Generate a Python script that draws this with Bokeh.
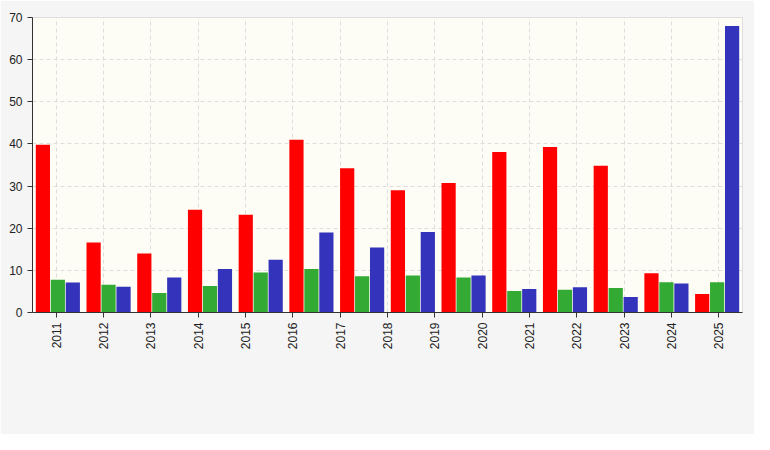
from bokeh.plotting import figure
from bokeh.models import Legend, LegendItem, FixedTicker, Range1d
from bokeh.embed import file_html
from bokeh.resources import INLINE

years = ["2011","2012","2013","2014","2015","2016","2017","2018","2019","2020","2021","2022","2023","2024","2025"]
red = [39.8, 16.6, 14.0, 24.4, 23.2, 41.0, 34.2, 29.0, 30.7, 38.1, 39.3, 34.8, 9.3, 4.4]
green = [7.8, 6.6, 4.6, 6.3, 9.5, 10.3, 8.6, 8.8, 8.3, 5.1, 5.4, 5.8, 7.2, 7.2]
blue = [7.1, 6.1, 8.3, 10.3, 12.5, 19.0, 15.4, 19.1, 8.8, 5.6, 6.0, 3.7, 6.9, 68.0]
names = ["- коэффициент оборачиваемости средств в расчетах",
         "- оборачиваемость кредиторской задолженности",
         "- коэффициент оборачиваемости денежных средств"]
colors = ["#ff0000", "#33aa33", "#3333bb"]

n = len(red)
p = figure(width=754, height=434, output_backend="svg", toolbar_location=None,
           x_range=Range1d(0, n), y_range=Range1d(0, 70),
           min_border_left=32, min_border_right=12, min_border_top=17, min_border_bottom=122)
p.background_fill_color = "#fdfdf5"
p.border_fill_color = "#f5f5f5"
p.outline_line_color = "#dddddd"

w = 0.28
rs = []
for k, (vals, c) in enumerate(zip([red, green, blue], colors)):
    xs = [i + 0.5 + (k - 1) * 0.295 for i in range(n)]
    r = p.vbar(x=xs, top=vals, width=w, bottom=0, fill_color=c, line_color=None)
    rs.append(r)

ticks = [(j + 0.5) * n / len(years) for j in range(len(years))]
p.xaxis.ticker = FixedTicker(ticks=ticks)
p.xaxis.major_label_overrides = {t: y for t, y in zip(ticks, years)}
p.xaxis.major_label_orientation = 1.5708
p.yaxis.ticker = FixedTicker(ticks=list(range(0, 71, 10)))
for ax in (p.xaxis, p.yaxis):
    ax.major_label_text_font = "Liberation Sans"
    ax.major_label_text_font_size = "12px"
    ax.major_label_text_color = "#222222"
    ax.axis_line_color = "#333333"
    ax.major_tick_line_color = "#333333"
    ax.minor_tick_line_color = None
    ax.major_tick_out = 5
    ax.major_tick_in = 0
p.xgrid.ticker = FixedTicker(ticks=ticks)
p.grid.grid_line_color = "#dddddd"
p.grid.grid_line_dash = "4 3"

legend = Legend(items=[LegendItem(label=nm, renderers=[r]) for nm, r in zip(names, rs)],
                location=(160, -120), orientation="vertical")
legend.label_text_font = "Liberation Sans"
legend.label_text_font_size = "12px"
legend.label_height = 14
legend.glyph_height = 12
legend.glyph_width = 16
legend.spacing = 4
legend.padding = 8
legend.margin = 0
legend.border_line_color = "#999999"
legend.background_fill_color = "#ffffff"
p.add_layout(legend, "center")

open("out.html", "w").write(file_html(p, INLINE))
